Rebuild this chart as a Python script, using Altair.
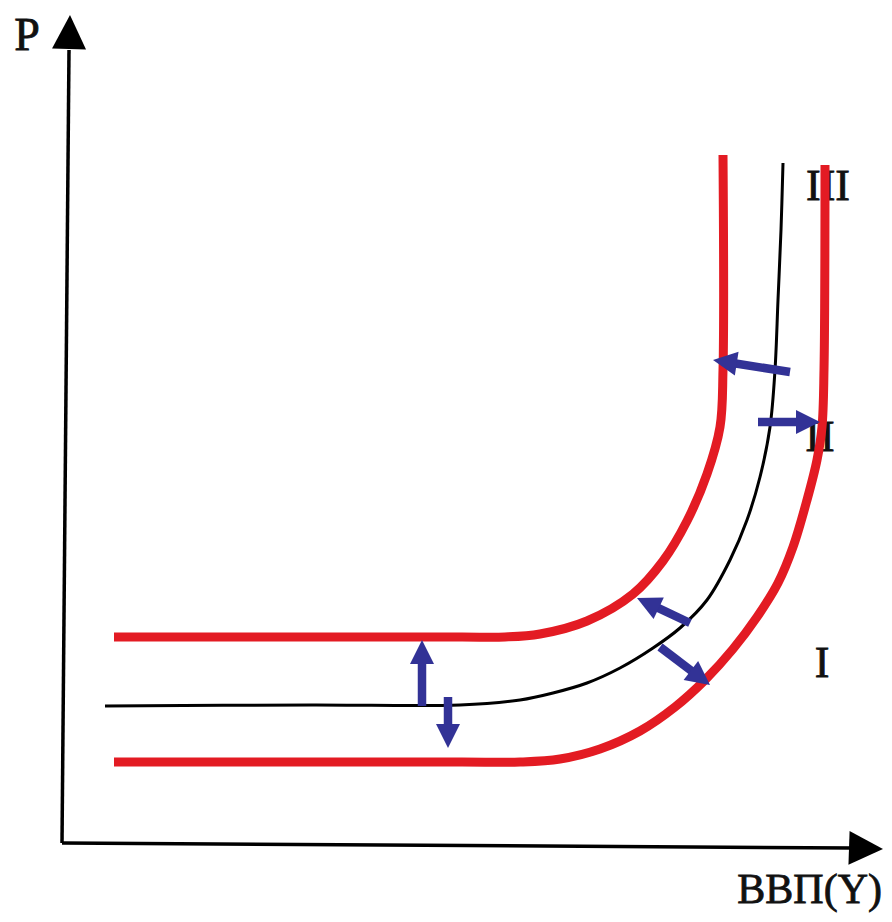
import math
import altair as alt
import pandas as pd

# Coordinates: x = pixels right of the origin, y = pixels above it
black_x = [43, 250, 398, 458, 491, 525, 558, 591, 618, 645, 668, 685, 698, 708, 713, 716, 719, 721]
black_y = [137, 138, 138, 143, 150, 160, 175, 195, 215, 243, 283, 323, 366, 416, 473, 543, 613, 680]

red_up_x = [52, 250, 400, 443, 478, 525, 571, 601, 625, 645, 658, 661, 661]
red_up_y = [206, 206, 206, 206, 209, 222, 249, 282, 322, 369, 416, 473, 688]

red_down_x = [52, 250, 400, 458, 498, 538, 578, 613, 643, 671, 695, 716, 731, 745, 755, 760, 762, 763]
red_down_y = [81, 81, 81, 81, 84, 94, 112, 136, 163, 194, 226, 260, 296, 343, 383, 416, 473, 678]

# blue shift arrows: start -> tip
arrow_x0 = [360, 386, 728, 696, 628, 598]
arrow_y0 = [137, 146, 471, 421, 220, 196]
arrow_x1 = [360, 386, 651, 758, 575, 648]
arrow_y1 = [203, 95, 483, 421, 245, 158]

# axes: origin -> end of line -> arrow tip
axis_x1 = [7, 791]
axis_y1 = [793, -5]
axis_tip_x = [8, 821]
axis_tip_y = [828, -6]

labels = ["P", "ВВП(Y)", "III", "II", "I"]
label_x = [-35, 820, 766, 758, 760]
label_y = [793, -60, 643, 392, 166]
label_align = ["center", "right", "center", "center", "center"]
label_size = [46, 42, 44, 44, 44]

RED = "#e31b23"
BLUE = "#323296"
HEAD = "M0,0L-1,2L1,2Z"

xs = alt.Scale(domain=[-54, 822], nice=False, zero=False)
ys = alt.Scale(domain=[-71, 835], nice=False, zero=False)


def curve_df(xv, yv, name):
    return pd.DataFrame({"x": xv, "y": yv, "i": range(len(xv)), "c": name})


curves_red = pd.concat([curve_df(red_up_x, red_up_y, "up"),
                        curve_df(red_down_x, red_down_y, "down")])
curve_black = curve_df(black_x, black_y, "mid")


def angle(dx, dy):
    return math.degrees(math.atan2(dx, dy)) % 360


rows = []
heads = []
for x0, y0, x1, y1 in zip(arrow_x0, arrow_y0, arrow_x1, arrow_y1):
    dx, dy = x1 - x0, y1 - y0
    L = math.hypot(dx, dy)
    ux, uy = dx / L, dy / L
    rows.append({"x": x0, "y": y0, "x2": x1 - 15 * ux, "y2": y1 - 15 * uy})
    heads.append({"x": x1, "y": y1, "a": angle(dx, dy)})
shafts = pd.DataFrame(rows)
bheads = pd.DataFrame(heads)

axes_df = pd.DataFrame({"x": [0, 0], "y": [0, 0], "x2": axis_x1, "y2": axis_y1})
axheads = pd.DataFrame({
    "x": axis_tip_x, "y": axis_tip_y,
    "a": [angle(tx - ex, ty - ey) for tx, ty, ex, ey in zip(axis_tip_x, axis_tip_y, axis_x1, axis_y1)],
})

lab_df = pd.DataFrame({"t": labels, "x": label_x, "y": label_y, "al": label_align, "s": label_size})

X = alt.X("x:Q", scale=xs, axis=None)
Y = alt.Y("y:Q", scale=ys, axis=None)

axis_lines = alt.Chart(axes_df).mark_rule(color="black", strokeWidth=3.5).encode(
    x=X, y=Y, x2="x2:Q", y2="y2:Q")
axis_heads = alt.Chart(axheads).mark_point(shape=HEAD, filled=True, color="black", opacity=1, size=1156).encode(
    x=X, y=Y, angle=alt.Angle("a:Q", scale=None))

texts = []
for al in ["center", "right"]:
    sub = lab_df[lab_df["al"] == al]
    texts.append(alt.Chart(sub).mark_text(font="Liberation Serif", align=al, baseline="alphabetic",
                                           color="#111111", stroke="#111111", strokeWidth=0.8).encode(
        x=X, y=Y, text="t:N", size=alt.Size("s:Q", scale=None)))

black_line = alt.Chart(curve_black).mark_line(color="black", strokeWidth=3, interpolate="catmull-rom").encode(
    x=X, y=Y, order="i:Q")
red_lines = alt.Chart(curves_red).mark_line(color=RED, strokeWidth=9, interpolate="catmull-rom",
                                            strokeCap="butt").encode(
    x=X, y=Y, order="i:Q", detail="c:N")

blue_shafts = alt.Chart(shafts).mark_rule(color=BLUE, strokeWidth=8.5, strokeCap="butt").encode(
    x=X, y=Y, x2="x2:Q", y2="y2:Q")
blue_heads = alt.Chart(bheads).mark_point(shape=HEAD, filled=True, color=BLUE, opacity=1, size=576).encode(
    x=X, y=Y, angle=alt.Angle("a:Q", scale=None))

chart = alt.layer(
    axis_lines, axis_heads, *texts, black_line, red_lines, blue_shafts, blue_heads
).properties(
    width=876, height=906,
    autosize=alt.AutoSizeParams(type="none"),
    padding=0,
    background="white",
).configure_view(stroke=None)

chart.save("out.html", embed_options={"renderer": "svg", "actions": False})
